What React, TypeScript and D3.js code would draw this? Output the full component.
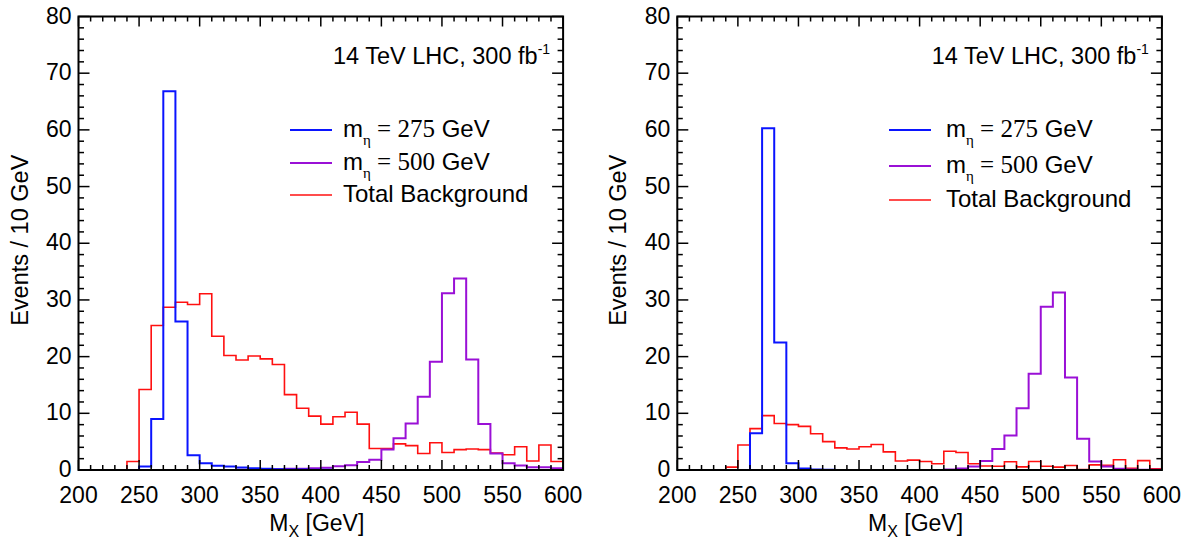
import React from "react";
import * as d3 from "d3";

// lower edges of the 10 GeV bins that are filled
const binLowEdges = [
  240, 250, 260, 270, 280, 290, 300, 310, 320, 330, 340, 350, 360, 370, 380, 390, 400, 410,
  420, 430, 440, 450, 460, 470, 480, 490, 500, 510, 520, 530, 540, 550, 560, 570, 580, 590,
];
const binWidth = 10;

// left panel
const leftSig275 = [
  0, 0.6, 9.0, 66.8, 26.2, 2.6, 1.2, 0.75, 0.6, 0.45, 0.3, 0.2, 0.15, 0.1, 0.1, 0.05, 0.05, 0,
  0, 0, 0, 0, 0, 0, 0, 0, 0, 0, 0, 0, 0, 0, 0, 0, 0, 0,
];
const leftSig500 = [
  0, 0, 0, 0, 0, 0, 0, 0, 0, 0.05, 0.1, 0.1, 0.15, 0.2, 0.2, 0.3, 0.4, 0.65,
  0.85, 1.4, 1.8, 3.6, 5.6, 8.2, 12.9, 19.1, 31.2, 33.8, 19.5, 8.1, 2.9, 1.2, 0.8, 0.5, 0.5, 0.3,
];
const leftBkg = [
  1.5, 14.2, 25.5, 28.7, 29.6, 29.2, 31.1, 23.6, 20.2, 19.4, 20.1, 19.6, 18.6, 13.3, 10.9, 9.5, 8.1, 9.4,
  10.2, 8.1, 3.8, 3.8, 4.6, 4.3, 2.9, 4.8, 3.1, 3.6, 3.7, 3.6, 3.0, 2.7, 4.1, 1.6, 4.4, 1.5,
];

// right panel
const rightSig275 = [
  0, 0, 6.5, 60.3, 22.5, 1.2, 0.25, 0.1, 0.05, 0, 0, 0, 0, 0, 0, 0, 0, 0,
  0, 0, 0, 0, 0, 0, 0, 0, 0, 0, 0, 0, 0, 0, 0, 0, 0, 0,
];
const rightSig500 = [
  0, 0, 0, 0, 0, 0, 0, 0, 0, 0, 0, 0, 0, 0, 0, 0, 0, 0,
  0.1, 0.25, 0.6, 1.6, 3.7, 6.1, 10.9, 17.0, 28.8, 31.3, 16.3, 5.5, 1.5, 0.6, 0.2, 0.1, 0.05, 0.05,
];
const rightBkg = [
  0.5, 4.4, 7.3, 9.6, 8.2, 8.0, 7.7, 6.4, 5.0, 3.9, 3.7, 4.1, 4.5, 3.2, 1.6, 1.75, 1.5, 1.1,
  3.3, 3.1, 1.1, 0.7, 0.65, 1.45, 0.55, 1.5, 0.65, 0.5, 0.8, 0.1, 0.9, 0.85, 1.8, 0.3, 1.65, 0.2,
];

const xTickLabels = [200, 250, 300, 350, 400, 450, 500, 550, 600];
const yTickLabels = [0, 10, 20, 30, 40, 50, 60, 70, 80];

const SANS = "'Liberation Sans', Arial, Helvetica, sans-serif";
const SERIF = "'Liberation Serif', 'Times New Roman', serif";
const BLUE = "#0a14ff";
const PURPLE = "#9a10d6";
const RED = "#ff1010";
const FS = 23;

type PanelProps = {
  left: number;
  sig275: number[];
  sig500: number[];
  bkg: number[];
  legendLineX: number;
  legendTextX: number;
  legendY: number[];
};

function histPath(values: number[], x: d3.ScaleLinear<number, number>, y: d3.ScaleLinear<number, number>) {
  const pts: [number, number][] = [[binLowEdges[0], 0]];
  values.forEach((v, i) => pts.push([binLowEdges[i], v]));
  const last = binLowEdges[binLowEdges.length - 1] + binWidth;
  pts.push([last, values[values.length - 1]]);
  const line = d3
    .line<[number, number]>()
    .x((d) => x(d[0]))
    .y((d) => y(d[1]))
    .curve(d3.curveStepAfter);
  return line(pts) || "";
}

const Panel = ({ left, sig275, sig500, bkg, legendLineX, legendTextX, legendY }: PanelProps) => {
  const top = 16.5;
  const bottom = 470;
  const width = 484.6;
  const right = left + width;

  const x = d3.scaleLinear().domain([200, 600]).range([left, right]);
  const y = d3.scaleLinear().domain([0, 80]).range([bottom, top]);

  const xMinor = d3.range(200, 601, 10);
  const yMinor = d3.range(0, 81, 2);

  const legend = [
    { color: BLUE, width: 2, mass: "275" },
    { color: PURPLE, width: 2, mass: "500" },
    { color: RED, width: 1.5, mass: null },
  ];

  return (
    <g>
      <path d={histPath(bkg, x, y)} fill="none" stroke={RED} strokeWidth={1.6} />
      <path d={histPath(sig500, x, y)} fill="none" stroke={PURPLE} strokeWidth={2} />
      <path d={histPath(sig275, x, y)} fill="none" stroke={BLUE} strokeWidth={2} />

      {/* ticks inside on all sides */}
      {xMinor.map((v) => {
        const len = v % 50 === 0 ? 10 : 5;
        return (
          <g key={"xt" + v}>
            <line x1={x(v)} x2={x(v)} y1={bottom} y2={bottom - len} stroke="#000" strokeWidth={1.5} />
            <line x1={x(v)} x2={x(v)} y1={top} y2={top + len} stroke="#000" strokeWidth={1.5} />
          </g>
        );
      })}
      {yMinor.map((v) => {
        const len = v % 10 === 0 ? 11 : 5.5;
        return (
          <g key={"yt" + v}>
            <line x1={left} x2={left + len} y1={y(v)} y2={y(v)} stroke="#000" strokeWidth={1.5} />
            <line x1={right} x2={right - len} y1={y(v)} y2={y(v)} stroke="#000" strokeWidth={1.5} />
          </g>
        );
      })}
      <rect x={left} y={top} width={width} height={bottom - top} fill="none" stroke="#000" strokeWidth={2} />

      {xTickLabels.map((v) => (
        <text key={"xl" + v} x={x(v)} y={503} textAnchor="middle" fontFamily={SANS} fontSize={FS}>
          {v}
        </text>
      ))}
      {yTickLabels.map((v) => (
        <text key={"yl" + v} x={left - 7} y={y(v) + 7} textAnchor="end" fontFamily={SANS} fontSize={FS}>
          {v}
        </text>
      ))}

      <text x={(left + right) / 2 - 4} y={531} textAnchor="middle" fontFamily={SANS} fontSize={FS}>
        M<tspan fontSize={16} dy={6}>X</tspan>
        <tspan dy={-6}> [GeV]</tspan>
      </text>
      <text
        transform={`translate(${left - 51},${(top + bottom) / 2 - 3}) rotate(-90)`}
        textAnchor="middle"
        fontFamily={SANS}
        fontSize={23.5}
      >
        Events / 10 GeV
      </text>

      <text x={right - 13} y={64} textAnchor="end" fontFamily={SANS} fontSize={23.5}>
        14 TeV LHC, 300 fb<tspan fontSize={14} dy={-10}>-1</tspan>
      </text>

      {legend.map((l, i) => (
        <g key={"lg" + i}>
          <line
            x1={legendLineX}
            x2={legendLineX + 42}
            y1={legendY[i]}
            y2={legendY[i]}
            stroke={l.color}
            strokeWidth={l.width}
          />
          {l.mass ? (
            <text x={legendTextX} y={legendY[i] + 7} fontFamily={SANS} fontSize={24}>
              m<tspan fontFamily={SERIF} fontSize={15} dy={8}>η</tspan>
              <tspan fontFamily={SERIF} fontSize={25} dy={-8}> = {l.mass}</tspan>
              <tspan> GeV</tspan>
            </text>
          ) : (
            <text x={legendTextX} y={legendY[i] + 7} fontFamily={SANS} fontSize={24}>
              Total Background
            </text>
          )}
        </g>
      ))}
    </g>
  );
};

export default function App() {
  return (
    <svg width={1188} height={544} style={{ position: "absolute", left: 0, top: 0, background: "#fff" }}>
      <Panel
        left={78.5}
        sig275={leftSig275}
        sig500={leftSig500}
        bkg={leftBkg}
        legendLineX={290}
        legendTextX={343}
        legendY={[130, 163, 195]}
      />
      <Panel
        left={677.3}
        sig275={rightSig275}
        sig500={rightSig500}
        bkg={rightBkg}
        legendLineX={889}
        legendTextX={946}
        legendY={[130, 166, 200]}
      />
    </svg>
  );
}
